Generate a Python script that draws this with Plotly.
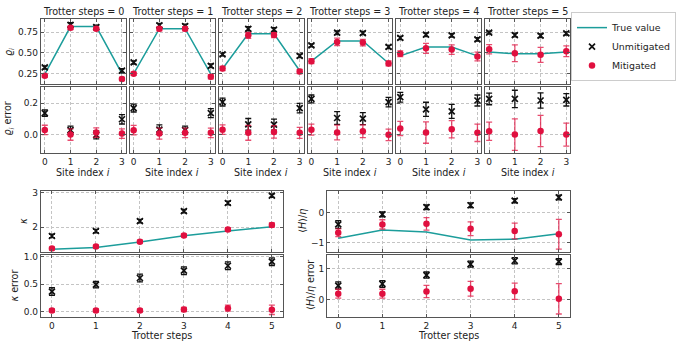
import plotly.graph_objects as go

W, H = 676, 346

# ---------------- data ----------------
sites = [0, 1, 2, 3]
steps = [0, 1, 2, 3, 4, 5]
site_ticks = ["0", "1", "2", "3"]
step_ticks = ["0", "1", "2", "3", "4", "5"]

rho_true = [
    [0.245, 0.815, 0.815, 0.25],
    [0.25, 0.79, 0.79, 0.245],
    [0.31, 0.73, 0.73, 0.285],
    [0.40, 0.643, 0.643, 0.376],
    [0.464, 0.571, 0.571, 0.464],
    [0.51, 0.49, 0.49, 0.51],
]
rho_unmit = [
    [0.325, 0.837, 0.81, 0.286],
    [0.385, 0.829, 0.82, 0.345],
    [0.483, 0.789, 0.78, 0.464],
    [0.59, 0.742, 0.738, 0.571],
    [0.679, 0.718, 0.71, 0.662],
    [0.742, 0.714, 0.706, 0.733],
]
rho_unmit_err = [
    [0.02, 0.025, 0.022, 0.025],
    [0.02, 0.025, 0.025, 0.022],
    [0.02, 0.025, 0.022, 0.022],
    [0.018, 0.022, 0.02, 0.02],
    [0.02, 0.022, 0.022, 0.02],
    [0.018, 0.022, 0.022, 0.02],
]
rho_mit = [
    [0.226, 0.80, 0.79, 0.186],
    [0.25, 0.789, 0.789, 0.214],
    [0.313, 0.71, 0.714, 0.277],
    [0.40, 0.631, 0.623, 0.373],
    [0.49, 0.555, 0.539, 0.456],
    [0.543, 0.495, 0.476, 0.519],
]
rho_mit_err = [
    [0.02, 0.02, 0.02, 0.02],
    [0.02, 0.025, 0.025, 0.025],
    [0.025, 0.035, 0.03, 0.025],
    [0.03, 0.045, 0.04, 0.03],
    [0.035, 0.06, 0.058, 0.053],
    [0.056, 0.1, 0.09, 0.065],
]

drho_unmit = [
    [0.138, 0.03, 0.0, 0.099],
    [0.17, 0.033, 0.03, 0.138],
    [0.208, 0.067, 0.065, 0.17],
    [0.228, 0.107, 0.103, 0.208],
    [0.239, 0.162, 0.149, 0.218],
    [0.228, 0.228, 0.218, 0.222],
]
drho_unmit_err = [
    [0.02, 0.025, 0.025, 0.03],
    [0.025, 0.03, 0.025, 0.028],
    [0.025, 0.037, 0.035, 0.03],
    [0.025, 0.04, 0.038, 0.03],
    [0.031, 0.045, 0.044, 0.035],
    [0.037, 0.055, 0.048, 0.039],
]
drho_mit = [
    [0.031, 0.002, 0.015, 0.008],
    [0.03, 0.008, 0.013, 0.013],
    [0.033, 0.013, 0.019, 0.013],
    [0.033, 0.015, 0.023, 0.0],
    [0.04, 0.015, 0.036, 0.013],
    [0.023, 0.002, 0.025, 0.002],
]
drho_mit_err = [
    [0.03, 0.036, 0.03, 0.03],
    [0.03, 0.035, 0.03, 0.03],
    [0.03, 0.047, 0.04, 0.035],
    [0.035, 0.047, 0.04, 0.037],
    [0.045, 0.068, 0.055, 0.055],
    [0.058, 0.1, 0.099, 0.073],
]

kappa_true = [1.36, 1.41, 1.57, 1.75, 1.886, 2.01]
kappa_unmit = [1.743, 1.886, 2.171, 2.457, 2.694, 2.905]
kappa_unmit_err = [0.05, 0.05, 0.05, 0.05, 0.05, 0.05]
kappa_mit = [1.38, 1.437, 1.58, 1.76, 1.93, 2.057]
kappa_mit_err = [0.04, 0.04, 0.04, 0.04, 0.05, 0.06]

dkappa_unmit = [0.364, 0.49, 0.612, 0.745, 0.836, 0.91]
dkappa_unmit_err = [0.07, 0.06, 0.07, 0.07, 0.07, 0.07]
dkappa_mit = [0.018, 0.018, 0.018, 0.036, 0.06, 0.03]
dkappa_mit_err = [0.03, 0.03, 0.03, 0.04, 0.055, 0.085]

h_true = [-0.853, -0.577, -0.643, -0.91, -0.887, -0.70]
h_unmit = [-0.39, -0.05, 0.19, 0.257, 0.41, 0.52]
h_unmit_err = [0.13, 0.08, 0.08, 0.08, 0.07, 0.08]
h_mit = [-0.667, -0.387, -0.367, -0.533, -0.61, -0.72]
h_mit_err = [0.13, 0.155, 0.21, 0.233, 0.267, 0.5]

dh_unmit = [0.456, 0.51, 0.80, 1.16, 1.27, 1.24]
dh_unmit_err = [0.12, 0.11, 0.1, 0.1, 0.1, 0.1]
dh_mit = [0.186, 0.186, 0.26, 0.35, 0.27, 0.02]
dh_mit_err = [0.147, 0.147, 0.2, 0.24, 0.266, 0.5]

# ---------------- style ----------------
TEAL = "#1c9d9b"
RED = "#e0103f"
RED_ERR = "rgba(224,16,63,0.75)"
BLACK = "#111111"
AX = "#555555"
GRID = "#c4c4c4"
FONT = "DejaVu Sans"

fig = go.Figure()


def fx(p):
    return p / W


def fy(p):
    return 1 - p / H


def add_set(n, x, true, unmit, unmit_err, mit, mit_err, legend):
    xa, ya = "x%d" % n, "y%d" % n
    if true is not None:
        fig.add_trace(go.Scatter(
            x=x, y=true, mode="lines", line=dict(color=TEAL, width=1.5),
            name="True value", legendgroup="t", showlegend=legend,
            xaxis=xa, yaxis=ya))
    fig.add_trace(go.Scatter(
        x=x, y=unmit, mode="markers",
        marker=dict(symbol="x-thin", size=6, line=dict(color=BLACK, width=1.7)),
        error_y=dict(type="data", array=unmit_err, color=BLACK, thickness=1.3, width=3),
        name="Unmitigated", legendgroup="u", showlegend=legend,
        xaxis=xa, yaxis=ya))
    fig.add_trace(go.Scatter(
        x=x, y=mit, mode="markers",
        marker=dict(symbol="circle", size=6.5, color=RED),
        error_y=dict(type="data", array=mit_err, color=RED_ERR, thickness=1.3, width=3),
        name="Mitigated", legendgroup="m", showlegend=legend,
        xaxis=xa, yaxis=ya))


def axis(dom, anchor, rng, tickvals, ticktext, showlabels):
    return dict(
        domain=dom, anchor=anchor, range=rng, tickvals=tickvals, ticktext=ticktext,
        showticklabels=showlabels, ticks="inside", ticklen=3, tickwidth=1,
        tickcolor=AX, mirror="allticks", showline=True, linecolor=AX, linewidth=1.3,
        showgrid=True, gridcolor=GRID, griddash="3px,2px", gridwidth=0.8,
        zeroline=False, tickfont=dict(size=9, color="#222", family=FONT),
    )


layout_axes = {}
annotations = []

X_TOP = [-0.15, 3.15]
Y_RHO = [0.123, 0.908]
Y_DRHO = [-0.113, 0.302]

for k in range(6):
    left = 41 + k * 89
    right = left + 85
    nu, nl = 2 * k + 1, 2 * k + 2
    xdom = [fx(left), fx(right)]
    layout_axes["xaxis%d" % nu] = axis(xdom, "y%d" % nu, X_TOP, sites, site_ticks, False)
    layout_axes["yaxis%d" % nu] = axis([fy(82), fy(16)], "x%d" % nu, Y_RHO,
                                       [0.25, 0.5, 0.75], ["0.25", "0.50", "0.75"], k == 0)
    layout_axes["xaxis%d" % nl] = axis(xdom, "y%d" % nl, X_TOP, sites, site_ticks, True)
    layout_axes["yaxis%d" % nl] = axis([fy(151), fy(85)], "x%d" % nl, Y_DRHO,
                                       [0.0, 0.2], ["0.0", "0.2"], k == 0)
    add_set(nu, sites, rho_true[k], rho_unmit[k], rho_unmit_err[k], rho_mit[k], rho_mit_err[k], k == 0)
    add_set(nl, sites, None, drho_unmit[k], drho_unmit_err[k], drho_mit[k], drho_mit_err[k], False)
    annotations.append(dict(text="Trotter steps = %d" % steps[k], x=fx((left + right) / 2), y=fy(9),
                            xref="paper", yref="paper", showarrow=False,
                            xanchor="center", yanchor="middle", font=dict(size=9.6)))
    annotations.append(dict(text="Site index <i>i</i>", x=fx((left + right) / 2), y=fy(170.5),
                            xref="paper", yref="paper", showarrow=False,
                            xanchor="center", yanchor="middle", font=dict(size=9.6)))

X_BOT = [-0.25, 5.25]
layout_axes["xaxis13"] = axis([fx(41), fx(283.3)], "y13", X_BOT, steps, step_ticks, False)
layout_axes["yaxis13"] = axis([fy(251), fy(189.3)], "x13", [1.286, 3.05], [1, 2, 3], ["1", "2", "3"], True)
layout_axes["xaxis14"] = axis([fx(41), fx(283.3)], "y14", X_BOT, steps, step_ticks, True)
layout_axes["yaxis14"] = axis([fy(316.7), fy(254)], "x14", [-0.10, 1.036], [0, 0.5, 1.0], ["0.0", "0.5", "1.0"], True)
layout_axes["xaxis15"] = axis([fx(327.7), fx(570.7)], "y15", X_BOT, steps, step_ticks, False)
layout_axes["yaxis15"] = axis([fy(251), fy(189.3)], "x15", [-1.31, 0.747], [-1, 0], ["\u22121", "0"], True)
layout_axes["xaxis16"] = axis([fx(327.7), fx(570.7)], "y16", X_BOT, steps, step_ticks, True)
layout_axes["yaxis16"] = axis([fy(316.7), fy(254)], "x16", [-0.577, 1.466], [0, 1], ["0", "1"], True)

add_set(13, steps, kappa_true, kappa_unmit, kappa_unmit_err, kappa_mit, kappa_mit_err, False)
add_set(14, steps, None, dkappa_unmit, dkappa_unmit_err, dkappa_mit, dkappa_mit_err, False)
add_set(15, steps, h_true, h_unmit, h_unmit_err, h_mit, h_mit_err, False)
add_set(16, steps, None, dh_unmit, dh_unmit_err, dh_mit, dh_mit_err, False)

for xc in [(41 + 283.3) / 2, (327.7 + 570.7) / 2]:
    annotations.append(dict(text="Trotter steps", x=fx(xc), y=fy(335.5), xref="paper", yref="paper",
                            showarrow=False, xanchor="center", yanchor="middle", font=dict(size=9.6)))

ylabels = [
    ("<i>\u03f1<sub>i</sub></i>", 9.5, 49),
    ("<i>\u03f1<sub>i</sub></i> error", 9.5, 116),
    ("<i>\u03ba</i>", 23, 220),
    ("<i>\u03ba</i> error", 15, 285),
    ("\u27e8<i>H</i>\u27e9/<i>\u03b7</i>", 303, 220),
    ("\u27e8<i>H</i>\u27e9/<i>\u03b7</i> error", 311, 285),
]
for txt, xp, yp in ylabels:
    annotations.append(dict(text=txt, x=fx(xp), y=fy(yp), xref="paper", yref="paper",
                            showarrow=False, textangle=-90, xanchor="center", yanchor="middle",
                            font=dict(size=9.6)))

fig.update_layout(
    width=W, height=H, margin=dict(l=0, r=0, t=0, b=0),
    paper_bgcolor="white", plot_bgcolor="white",
    font=dict(family=FONT, size=9.6, color="#222"),
    annotations=annotations,
    legend=dict(x=fx(572), y=fy(44), xanchor="left", yanchor="middle",
                bordercolor="#cccccc", borderwidth=1, bgcolor="white",
                font=dict(size=9.4, family=FONT), tracegroupgap=0, itemwidth=30),
    **layout_axes,
)

fig.write_html(
    "out.html",
    config={"displayModeBar": False},
    post_script="document.body.style.margin='0';document.body.style.overflow='hidden';",
)
